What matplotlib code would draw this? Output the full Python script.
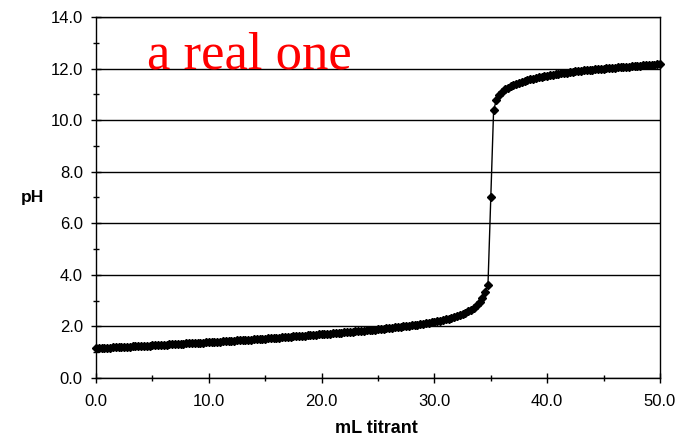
import numpy as np
import matplotlib
matplotlib.use('Agg')
import matplotlib.pyplot as plt
from matplotlib.ticker import MultipleLocator, FormatStrFormatter

# titrant added in 0.25 mL steps
volume = np.arange(0, 50.25, 0.25)

# pH readings
ph_0_10 = [1.16, 1.16, 1.17, 1.17, 1.18, 1.18, 1.19, 1.19, 1.20, 1.21,
           1.21, 1.22, 1.22, 1.23, 1.23, 1.24, 1.24, 1.25, 1.25, 1.26,
           1.27, 1.27, 1.28, 1.28, 1.29, 1.29, 1.30, 1.31, 1.31, 1.32,
           1.32, 1.33, 1.34, 1.34, 1.35, 1.35, 1.36, 1.37, 1.37, 1.38,
           1.39]
ph_10_20 = [1.39, 1.40, 1.41, 1.41, 1.42, 1.43, 1.44, 1.44, 1.45, 1.46,
            1.46, 1.47, 1.48, 1.49, 1.49, 1.50, 1.51, 1.52, 1.52, 1.53,
            1.54, 1.55, 1.55, 1.56, 1.57, 1.58, 1.59, 1.59, 1.60, 1.61,
            1.62, 1.63, 1.63, 1.64, 1.65, 1.66, 1.67, 1.68, 1.69, 1.70]
ph_20_25 = [1.71, 1.72, 1.72, 1.73, 1.74, 1.75, 1.76, 1.77, 1.78, 1.79,
            1.80, 1.81, 1.82, 1.83, 1.84, 1.85, 1.86, 1.87, 1.88, 1.89]
ph_25_30 = [1.90, 1.91, 1.92, 1.94, 1.95, 1.96, 1.97, 1.99, 2.00, 2.01,
            2.03, 2.04, 2.06, 2.07, 2.09, 2.10, 2.12, 2.14, 2.16, 2.18]
ph_30_35 = [2.20, 2.22, 2.25, 2.27, 2.30, 2.33, 2.36, 2.40, 2.44, 2.48,
            2.53, 2.58, 2.64, 2.72, 2.82, 2.95, 3.10, 3.32, 3.62, 7.00]
ph_35_50 = [10.40, 10.78, 10.98, 11.10, 11.19, 11.26, 11.32, 11.37, 11.41, 11.45,
            11.49, 11.52, 11.55, 11.58, 11.61, 11.63, 11.66, 11.68, 11.70, 11.72,
            11.74, 11.76, 11.78, 11.80, 11.81, 11.83, 11.84, 11.86, 11.87, 11.89,
            11.90, 11.91, 11.93, 11.94, 11.95, 11.96, 11.97, 11.98, 11.99, 12.00,
            12.01, 12.02, 12.03, 12.04, 12.05, 12.06, 12.07, 12.07, 12.08, 12.09,
            12.10, 12.11, 12.11, 12.12, 12.13, 12.14, 12.14, 12.15, 12.16, 12.17]
ph = ph_0_10 + ph_10_20 + ph_20_25 + ph_25_30 + ph_30_35 + ph_35_50

plt.rcParams['font.family'] = ['Liberation Sans', 'DejaVu Sans']

fig = plt.figure(figsize=(6.92, 4.40), dpi=100)
ax = fig.add_axes([96 / 692, 1 - 378 / 440, 564 / 692, 361 / 440])

ax.plot(volume, ph, color='black', lw=1, marker='D', markersize=3.8,
        markeredgewidth=1, zorder=3, clip_on=False)

ax.set_xlim(0, 50)
ax.set_ylim(0, 14)
ax.xaxis.set_major_locator(MultipleLocator(10))
ax.xaxis.set_minor_locator(MultipleLocator(5))
ax.yaxis.set_major_locator(MultipleLocator(2))
ax.yaxis.set_minor_locator(MultipleLocator(1))
ax.xaxis.set_major_formatter(FormatStrFormatter('%.1f'))
ax.yaxis.set_major_formatter(FormatStrFormatter('%.1f'))
ax.tick_params(which='major', direction='inout', length=7, width=1,
               labelsize=12, colors='black')
ax.tick_params(axis='x', which='major', pad=8)
ax.tick_params(axis='y', which='major', pad=6)
ax.tick_params(which='minor', direction='inout', length=5, width=1)

ax.grid(axis='y', which='major', color='black', lw=1)
ax.set_axisbelow(True)
for s in ax.spines.values():
    s.set_color('black')
    s.set_linewidth(1)

ax.set_xlabel('mL titrant', fontsize=13, fontweight='bold', va='center')
ax.set_ylabel('pH', fontsize=12.5, fontweight='bold', rotation=0,
              va='center', ha='center')
ax.xaxis.set_label_coords((376 - 96) / 564, (378 - 428) / 361)
ax.yaxis.set_label_coords((32 - 96) / 564, 0.5)

ax.text(4.5, 12.0, 'a real one', color='red', fontsize=38,
        family='Liberation Serif', va='baseline', ha='left')

fig.savefig('out.png', dpi=100)
